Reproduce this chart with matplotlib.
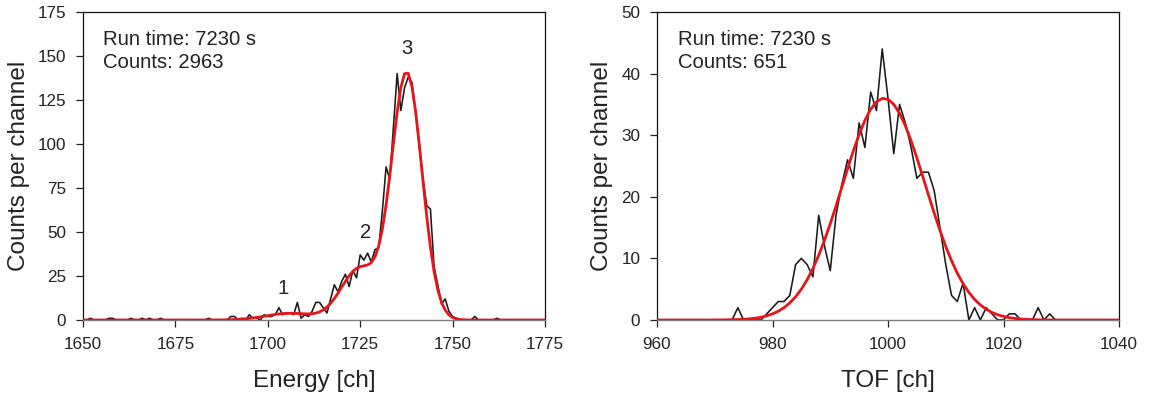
import numpy as np
import matplotlib
matplotlib.use("Agg")
import matplotlib.pyplot as plt

plt.rcParams['font.family'] = ['Liberation Sans', 'DejaVu Sans']

# ---------------- Left panel: Energy spectrum ----------------
energy_start = 1650
energy_counts = [
    0, 0, 1, 0, 0, 0, 0, 1, 1, 0,        # 1650-1659
    0, 0, 0, 1, 0, 0, 1, 0, 1, 0,        # 1660-1669
    0, 1, 0, 0, 0, 0, 0, 0, 0, 0,        # 1670-1679
    0, 0, 0, 0, 1, 0, 0, 0, 0, 0,        # 1680-1689
    2, 2, 0, 1, 0, 3, 1, 1, 0, 3,        # 1690-1699
    2, 2, 3, 7, 3, 4, 4, 3, 10, 1,       # 1700-1709
    3, 2, 5, 10, 10, 7, 4, 12, 20, 16,   # 1710-1719
    22, 26, 19, 28, 24, 37, 34, 38, 33, 40,   # 1720-1729
    41, 62, 87, 80, 110, 140, 119, 132, 138, 135,  # 1730-1739
    118, 98, 80, 65, 63, 30, 20, 9, 12, 5,    # 1740-1749
    2, 1, 0, 0, 0, 0, 2, 0, 0, 0,        # 1750-1759
    0, 0, 1, 0, 0, 0,                    # 1760-1765
]
energy_fit_start = 1650
energy_fit = [
    0, 0, 0, 0, 0, 0, 0, 0, 0, 0,                                  # 1650-1659
    0, 0, 0, 0, 0, 0, 0, 0, 0, 0,                                  # 1660-1669
    0, 0, 0, 0, 0, 0, 0, 0, 0, 0,                                  # 1670-1679
    0, 0, 0, 0, 0, 0.02, 0.03, 0.05, 0.08, 0.12,                   # 1680-1689
    0.18, 0.27, 0.37, 0.51, 0.69, 0.91, 1.16, 1.46, 1.78, 2.13,    # 1690-1699
    2.48, 2.83, 3.14, 3.42, 3.62, 3.75, 3.82, 3.80, 3.72, 3.62,    # 1700-1709
    3.50, 3.47, 3.57, 3.92, 4.60, 5.71, 7.32, 9.50, 12.2, 15.3,    # 1710-1719
    18.7, 22.0, 25.1, 27.6, 29.3, 30.3, 30.8, 31.3, 32.6, 35.9,    # 1720-1729
    42.0, 51.7, 65.3, 82.2, 100.5, 118.1, 132.1, 140.0, 140.2, 132.6,  # 1730-1739
    118.3, 99.4, 78.7, 58.8, 41.4, 27.4, 17.1, 10.1, 5.6, 2.9,     # 1740-1749
    1.44, 0.67, 0.29, 0.12, 0.05, 0.02, 0, 0, 0, 0,                # 1750-1759
    0, 0, 0, 0, 0, 0, 0, 0, 0, 0,                                  # 1760-1769
    0, 0, 0, 0, 0, 0,                                              # 1770-1775
]
energy_peak_labels = ["1", "2", "3"]
energy_peak_x = [1704.1, 1726.6, 1737.7]
energy_peak_y = [18.0, 49.6, 154.5]
energy_xticks = [1650, 1675, 1700, 1725, 1750, 1775]
energy_yticks = [0, 25, 50, 75, 100, 125, 150, 175]
energy_info = ["Run time: 7230 s", "Counts: 2963"]

# ---------------- Right panel: TOF spectrum ----------------
tof_start = 960
tof_counts = [
    0, 0, 0, 0, 0, 0, 0, 0, 0, 0,        # 960-969
    0, 0, 0, 0, 2, 0, 0, 0, 0, 1,        # 970-979
    2, 3, 3, 4, 9, 10, 9, 7, 17, 12,     # 980-989
    8, 17, 22, 26, 23, 32, 28, 37, 34, 44,    # 990-999
    36, 27, 35, 32, 28, 23, 24, 24, 21, 15,   # 1000-1009
    9, 4, 3, 6, 0, 2, 0, 2, 1, 0,        # 1010-1019
    0, 1, 1, 0, 0, 0, 2, 0, 1, 0,        # 1020-1029
    0, 0, 0, 0, 0, 0, 0, 0, 0, 0, 0,     # 1030-1040
]
tof_fit_start = 960
tof_fit = [
    0, 0, 0, 0, 0, 0, 0, 0, 0, 0,                                   # 960-969
    0.01, 0.02, 0.03, 0.05, 0.08, 0.12, 0.19, 0.30, 0.45, 0.68,     # 970-979
    0.99, 1.42, 2.01, 2.78, 3.77, 5.01, 6.54, 8.37, 10.50, 12.94,   # 980-989
    15.63, 18.52, 21.53, 24.55, 27.46, 30.12, 32.41, 34.21, 35.42, 35.97,  # 990-999
    35.83, 35.01, 33.56, 31.55, 29.09, 26.32, 23.35, 20.32, 17.35, 14.53,  # 1000-1009
    11.93, 9.62, 7.60, 5.89, 4.48, 3.34, 2.44, 1.75, 1.23, 0.85,    # 1010-1019
    0.58, 0.38, 0.25, 0.16, 0.10, 0.06, 0.03, 0.02, 0.01, 0,        # 1020-1029
    0, 0, 0, 0, 0, 0, 0, 0, 0, 0, 0,                                # 1030-1040
]
tof_xticks = [960, 980, 1000, 1020, 1040]
tof_yticks = [0, 10, 20, 30, 40, 50]
tof_info = ["Run time: 7230 s", "Counts: 651"]

# ---------------- Styles ----------------
DATA_COLOR = '#1a1a1a'
FIT_COLOR = '#e8141c'
TEXT_COLOR = '#222222'
TICK_FS = 12.3
LABEL_FS = 17.5
NOTE_FS = 14.6

fig = plt.figure(figsize=(11.53, 4.0), dpi=100)
axL = fig.add_axes([83 / 1153, 0.2, 462 / 1153, 0.77])
axR = fig.add_axes([657 / 1153, 0.2, 462 / 1153, 0.77])


def style_axes(ax, xticks, yticks, xlabel):
    ax.set_xlim(xticks[0], xticks[-1])
    ax.set_ylim(yticks[0], yticks[-1])
    ax.set_xticks(xticks)
    ax.set_yticks(yticks)
    ax.tick_params(direction='out', length=5, width=0.9, labelsize=TICK_FS,
                   colors=TEXT_COLOR, top=False, right=False)
    ax.tick_params(axis='x', pad=7)
    ax.tick_params(axis='y', pad=7)
    for s in ['left', 'top', 'right']:
        ax.spines[s].set_color('#111111')
        ax.spines[s].set_linewidth(0.9)
    ax.spines['bottom'].set_color('#7f7f7f')
    ax.spines['bottom'].set_linewidth(1.0)
    ax.set_xlabel(xlabel, fontsize=LABEL_FS, color=TEXT_COLOR, labelpad=13)
    ax.set_ylabel('Counts per channel', fontsize=LABEL_FS, color=TEXT_COLOR,
                  labelpad=6)


# Left
ex = np.arange(energy_start, energy_start + len(energy_counts))
efx = np.arange(energy_fit_start, energy_fit_start + len(energy_fit))
axL.plot(ex, energy_counts, color=DATA_COLOR, lw=1.15, zorder=2)
axL.plot(efx, energy_fit, color=FIT_COLOR, lw=2.0, zorder=3,
         solid_joinstyle='round')
style_axes(axL, energy_xticks, energy_yticks, 'Energy [ch]')
for lab, x, y in zip(energy_peak_labels, energy_peak_x, energy_peak_y):
    axL.text(x, y, lab, fontsize=NOTE_FS, color=TEXT_COLOR,
             ha='center', va='center')
axL.text(0.043, 0.8925, energy_info[0], transform=axL.transAxes,
         fontsize=NOTE_FS, color=TEXT_COLOR, va='baseline', ha='left')
axL.text(0.043, 0.8176, energy_info[1], transform=axL.transAxes,
         fontsize=NOTE_FS, color=TEXT_COLOR, va='baseline', ha='left')

# Right
tx = np.arange(tof_start, tof_start + len(tof_counts))
tfx = np.arange(tof_fit_start, tof_fit_start + len(tof_fit))
axR.plot(tx, tof_counts, color=DATA_COLOR, lw=1.15, zorder=2)
axR.plot(tfx, tof_fit, color=FIT_COLOR, lw=2.0, zorder=3,
         solid_joinstyle='round')
style_axes(axR, tof_xticks, tof_yticks, 'TOF [ch]')
axR.text(0.046, 0.8925, tof_info[0], transform=axR.transAxes,
         fontsize=NOTE_FS, color=TEXT_COLOR, va='baseline', ha='left')
axR.text(0.046, 0.8176, tof_info[1], transform=axR.transAxes,
         fontsize=NOTE_FS, color=TEXT_COLOR, va='baseline', ha='left')

fig.savefig('out.png', dpi=100)
